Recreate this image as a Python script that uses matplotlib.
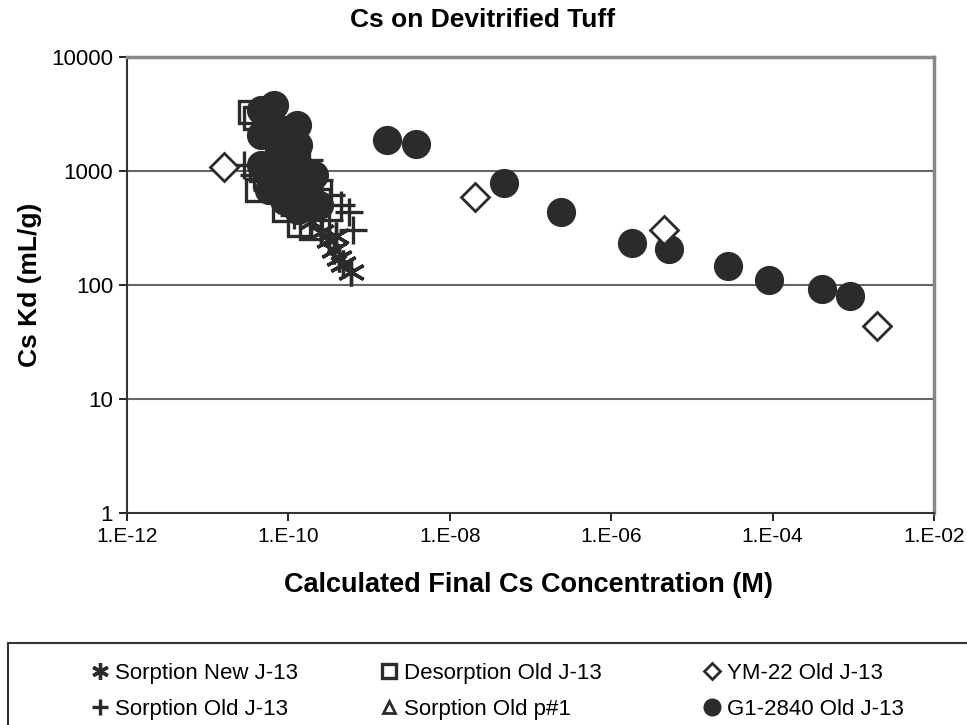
import matplotlib
matplotlib.use("Agg")
import matplotlib.pyplot as plt
from matplotlib.patches import Rectangle
from matplotlib.ticker import FixedLocator, FixedFormatter, NullLocator

plt.rcParams['font.family'] = ['Liberation Sans', 'DejaVu Sans']

# data (concentration in M, Kd in mL/g)
new_j13_conc = [3.2e-10, 3.65e-10, 4.2e-10, 4.8e-10, 5.9e-10, 2.5e-10, 1.9e-10, 3.9e-10]
new_j13_kd = [248, 203, 173, 153, 130, 292, 357, 270]

old_j13_conc = [2.8e-11, 3.8e-11, 5.4e-11, 7.7e-11, 1.17e-10, 1.8e-10, 2.4e-10, 3.35e-10,
                4.45e-10, 5.6e-10, 6.4e-10, 1.35e-10, 8.8e-11, 5.8e-11, 2.07e-10, 3.2e-10]
old_j13_kd = [1130, 922, 681, 557, 411, 1250, 834, 616,
              503, 437, 304, 681, 1020, 1250, 411, 372]

desorp_conc = [3.3e-11, 3.9e-11, 4.6e-11, 6.7e-11, 1.0e-10, 1.35e-10, 1.9e-10, 1.56e-10,
               8.8e-11, 4.1e-11, 2.4e-10]
desorp_kd = [3300, 2900, 1020, 750, 557, 336, 316, 922,
             455, 681, 557]

p1_conc = [5.8e-11, 1.0e-10, 7.7e-11, 1.56e-10]
p1_kd = [920, 680, 1900, 557]

ym22_conc = [1.57e-11, 2.07e-8, 4.46e-6, 1.96e-3]
ym22_kd = [1077, 594, 305, 43.5]

g1_conc = [4.6e-11, 6.7e-11, 4.6e-11, 8.8e-11, 1.28e-10, 1.3e-10, 7.7e-11, 5.8e-11,
           4.6e-11, 7.7e-11, 1.17e-10, 1.3e-10, 5.8e-11, 8.8e-11, 1.8e-10, 1.3e-10, 2.4e-10, 2.07e-10,
           1.68e-9, 3.77e-9, 4.7e-8, 2.36e-7, 1.79e-6, 5.19e-6, 2.77e-5, 8.93e-5, 4.09e-4, 9.03e-4]
g1_kd = [3430, 3790, 2070, 2290, 2530, 1690, 1530, 2800,
         1130, 922, 753, 1130, 681, 557, 681, 455, 503, 922,
         1875, 1718, 783, 441, 235, 205, 147, 111, 91.6, 80]

x_ticks = [1e-12, 1e-10, 1e-8, 1e-6, 1e-4, 1e-2]
x_labels = ['1.E-12', '1.E-10', '1.E-08', '1.E-06', '1.E-04', '1.E-02']
y_ticks = [1, 10, 100, 1000, 10000]
y_labels = ['1', '10', '100', '1000', '10000']

col = '#2b2b2b'

fig = plt.figure(figsize=(9.67, 7.25), dpi=100)
ax = fig.add_axes([127 / 967, 1 - 513 / 725, (934 - 127) / 967, (513 - 57) / 725])
ax.set_xscale('log')
ax.set_yscale('log')
ax.set_xlim(1e-12, 1e-2)
ax.set_ylim(1, 10000)

for yv in [10, 100, 1000]:
    ax.axhline(yv, color='#666666', lw=1.5, zorder=1)

h_p1, = ax.plot(p1_conc, p1_kd, '^', ms=14, mfc='none', mec=col, mew=2, zorder=2)
h_des, = ax.plot(desorp_conc, desorp_kd, 's', ms=16, mfc='none', mec=col, mew=2.4, zorder=3)
h_g1, = ax.plot(g1_conc, g1_kd, 'o', ms=20, color=col, mec=col, zorder=4)
h_old, = ax.plot(old_j13_conc, old_j13_kd, '+', ms=20, mec=col, mew=2.4, zorder=5)
h_new, = ax.plot(new_j13_conc, new_j13_kd, linestyle='none', marker=(6, 2, 0), ms=20, mec=col, mew=2.4, zorder=5)
h_ym, = ax.plot(ym22_conc, ym22_kd, 'D', ms=14, mfc='white', mec=col, mew=2, zorder=6)

ax.xaxis.set_major_locator(FixedLocator(x_ticks))
ax.xaxis.set_major_formatter(FixedFormatter(x_labels))
ax.xaxis.set_minor_locator(NullLocator())
ax.yaxis.set_major_locator(FixedLocator(y_ticks))
ax.yaxis.set_major_formatter(FixedFormatter(y_labels))
ax.yaxis.set_minor_locator(NullLocator())
ax.tick_params(axis='both', direction='out', length=6, width=1.2, labelsize=15, color='black', pad=4)
ax.tick_params(axis='y', labelsize=16)

for s in ['top', 'right']:
    ax.spines[s].set_color('#888888')
    ax.spines[s].set_linewidth(2.5)
for s in ['left', 'bottom']:
    ax.spines[s].set_color('#333333')
    ax.spines[s].set_linewidth(1.5)

fig.text(483 / 967, 1 - 20 / 725, 'Cs on Devitrified Tuff', ha='center', va='center',
         fontsize=19, fontweight='bold')
fig.text(528 / 967, 1 - 585 / 725, 'Calculated Final Cs Concentration (M)', ha='center', va='center',
         fontsize=19.5, fontweight='bold')
fig.text(30 / 967, 1 - 285 / 725, 'Cs Kd (mL/g)', ha='center', va='center', rotation=90,
         fontsize=19, fontweight='bold')

# legend frame (cut off at right and bottom like the source)
fig.patches.append(Rectangle((8 / 967, -0.1), 1.2, 0.1 + (1 - 643 / 725), transform=fig.transFigure,
                             fill=False, ec='#333333', lw=1.5))

legend_cols = [([h_new, h_old], ['Sorption New J-13', 'Sorption Old J-13'], 91),
               ([h_des, h_p1], ['Desorption Old J-13', 'Sorption Old p#1'], 380),
               ([h_ym, h_g1], ['YM-22 Old J-13', 'G1-2840 Old J-13'], 703)]
for hs, labs, xpx in legend_cols:
    lg = fig.legend(hs, labs, loc='upper left', bbox_to_anchor=(xpx / 967, 1 - 663 / 725),
                    frameon=False, fontsize=16, handlelength=0.8, handletextpad=0.3,
                    labelspacing=0.68, markerscale=0.6, borderaxespad=0, borderpad=0)

fig.savefig('out.png', dpi=100)
